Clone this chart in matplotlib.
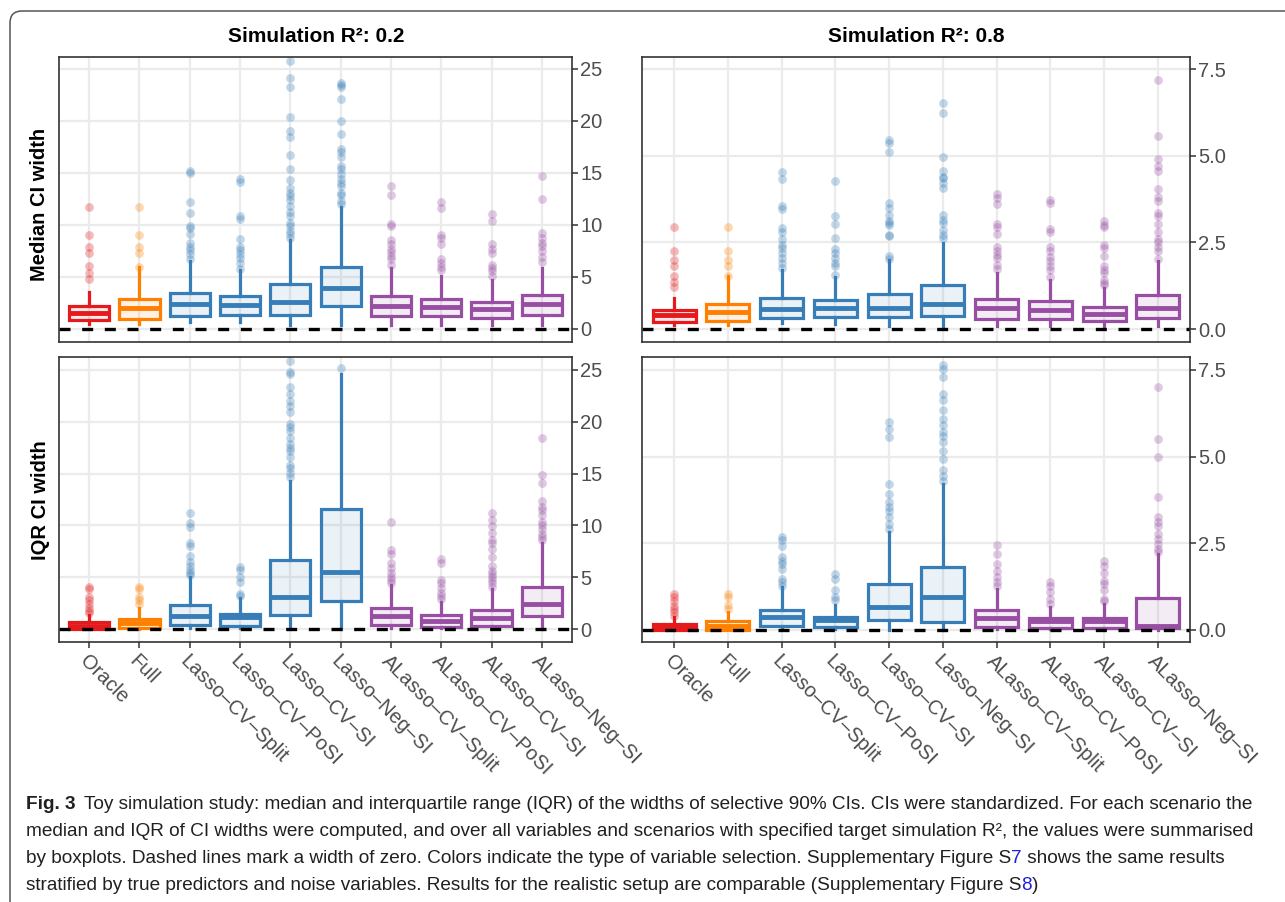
import matplotlib
matplotlib.use("Agg")
import matplotlib.pyplot as plt
import numpy as np
from matplotlib import font_manager as fm
from matplotlib.patches import FancyBboxPatch
from matplotlib.transforms import IdentityTransform
from matplotlib.colors import to_rgba

W, H, DPI = 1285, 902, 100

# ---------------- data ----------------
methods = ["Oracle", "Full", "Lasso\u2013CV\u2013Split", "Lasso\u2013CV\u2013PoSI", "Lasso\u2013CV\u2013SI",
           "Lasso\u2013Neg\u2013SI", "ALasso\u2013CV\u2013Split", "ALasso\u2013CV\u2013PoSI",
           "ALasso\u2013CV\u2013SI", "ALasso\u2013Neg\u2013SI"]
method_type = ["oracle", "full", "lasso", "lasso", "lasso", "lasso", "alasso", "alasso", "alasso", "alasso"]
type_colors = {"oracle": "#E41A1C", "full": "#FF7F00", "lasso": "#377EB8", "alasso": "#984EA3"}

col_titles = ["Simulation R\u00b2: 0.2", "Simulation R\u00b2: 0.8"]
row_titles = ["Median CI width", "IQR CI width"]

# Median CI width, R2 = 0.2
med02_q1 = [0.90, 0.96, 1.28, 1.38, 1.31, 2.18, 1.22, 1.22, 1.06, 1.31]
med02_med = [1.54, 2.00, 2.44, 2.34, 2.56, 3.90, 2.18, 2.10, 1.92, 2.40]
med02_q3 = [2.18, 2.90, 3.46, 3.14, 4.33, 5.96, 3.14, 2.90, 2.60, 3.30]
med02_lo = [0.50, 0.50, 0.64, 0.64, 0.42, 0.42, 0.42, 0.42, 0.42, 0.42]
med02_hi = [3.60, 6.00, 6.50, 5.70, 8.60, 11.7, 5.87, 5.10, 4.74, 5.87]
med02_out = [
    [11.7, 9.0, 7.9, 7.3, 6.1, 5.4, 4.8],
    [11.7, 9.0, 7.9, 7.3, 6.0],
    [15.2, 15.0, 12.2, 11.2, 9.9, 9.7, 9.1, 8.3, 7.9, 7.6, 7.2, 6.7],
    [14.4, 14.1, 10.9, 10.6, 8.7, 7.9, 7.6, 7.2, 6.8, 6.3, 5.8],
    [25.8, 24.1, 23.3, 20.4, 19.0, 18.5, 16.7, 15.4, 14.3, 13.6, 13.1, 12.8, 12.4, 11.8,
     11.25, 10.9, 10.2, 9.9, 9.4, 9.1, 8.75],
    [23.65, 23.5, 23.3, 22.1, 20.0, 18.75, 17.3, 17.0, 16.5, 15.7, 15.4, 14.9, 14.4, 14.0,
     13.7, 13.1, 12.85, 12.3, 12.05],
    [13.7, 12.85, 10.1, 9.9, 8.6, 8.2, 7.7, 7.4, 7.05, 6.7, 6.2],
    [12.2, 11.6, 9.0, 8.75, 8.2, 6.7, 6.35, 6.0, 5.7],
    [11.1, 10.35, 8.2, 7.7, 7.3, 6.2, 5.87, 5.55, 5.06],
    [14.7, 12.5, 9.2, 8.75, 8.3, 7.95, 7.47, 6.9, 6.4],
]

# Median CI width, R2 = 0.8
med08_q1 = [0.19, 0.22, 0.32, 0.34, 0.34, 0.37, 0.30, 0.30, 0.22, 0.32]
med08_med = [0.39, 0.49, 0.59, 0.60, 0.62, 0.73, 0.60, 0.54, 0.43, 0.62]
med08_q3 = [0.56, 0.73, 0.89, 0.85, 1.01, 1.26, 0.86, 0.80, 0.63, 0.97]
med08_lo = [0.12, 0.12, 0.17, 0.15, 0.10, 0.10, 0.10, 0.10, 0.10, 0.10]
med08_hi = [0.89, 1.52, 1.71, 1.49, 2.00, 2.48, 1.61, 1.42, 1.18, 1.95]
med08_out = [
    [2.93, 2.24, 1.98, 1.81, 1.52, 1.35, 1.21],
    [2.93, 2.24, 1.98, 1.81, 1.52],
    [4.52, 4.32, 3.56, 3.46, 2.91, 2.79, 2.59, 2.43, 2.33, 2.19, 2.05, 1.90, 1.76],
    [4.28, 3.27, 3.04, 2.62, 2.31, 2.19, 2.05, 1.90, 1.81, 1.55],
    [5.46, 5.36, 5.12, 3.65, 3.49, 3.28, 3.13, 3.07, 3.00, 2.72, 2.67, 2.10, 2.02],
    [6.51, 6.24, 4.95, 4.56, 4.40, 4.37, 4.21, 4.08, 3.29, 3.15, 3.05, 2.86, 2.72, 2.62],
    [3.90, 3.78, 3.61, 3.04, 2.94, 2.74, 2.38, 2.24, 2.14, 2.05, 1.85, 1.74],
    [3.71, 3.63, 2.89, 2.81, 2.38, 2.24, 2.09, 1.95, 1.83, 1.71, 1.49],
    [3.13, 3.00, 2.94, 2.43, 2.33, 2.11, 1.83, 1.71, 1.61, 1.42, 1.33, 1.28],
    [7.18, 5.57, 4.90, 4.69, 4.57, 4.03, 3.82, 3.68, 3.35, 3.25, 3.04, 2.81, 2.59, 2.50,
     2.38, 2.24, 2.02],
]

# IQR CI width, R2 = 0.2
iqr02_q1 = [0.05, 0.07, 0.42, 0.26, 1.31, 2.75, 0.42, 0.19, 0.32, 1.22]
iqr02_med = [0.30, 0.60, 1.22, 1.12, 3.07, 5.47, 1.22, 0.74, 1.06, 2.43]
iqr02_q3 = [0.65, 0.96, 2.34, 1.47, 6.66, 11.6, 2.00, 1.31, 1.80, 4.10]
iqr02_lo = [0.00, 0.00, 0.10, 0.10, 0.00, 0.00, 0.10, 0.10, 0.10, 0.00]
iqr02_hi = [1.38, 2.00, 5.06, 3.00, 14.3, 24.6, 4.26, 2.60, 3.84, 8.26]
iqr02_out = [
    [4.1, 3.84, 3.14, 2.8, 2.43, 2.0, 1.76, 1.54],
    [4.1, 3.84, 3.14, 2.8, 2.43],
    [11.2, 10.24, 9.86, 8.26, 8.0, 7.04, 6.5, 6.08, 5.7, 5.44, 5.2],
    [6.0, 5.7, 5.06, 4.58, 3.36, 3.2],
    [25.9, 24.8, 24.6, 23.4, 22.7, 22.0, 21.5, 20.9, 19.8, 19.5, 19.1, 18.4, 17.9, 17.5,
     17.2, 16.6, 15.8, 15.5, 15.1, 14.7],
    [25.2],
    [10.34, 7.6, 7.23, 6.34, 5.86, 5.44, 5.06, 4.74, 4.48],
    [6.72, 6.4, 4.74, 4.42, 3.94, 3.52, 3.2, 2.88],
    [11.2, 10.56, 9.92, 9.28, 8.64, 8.32, 7.68, 6.98, 6.08, 5.63, 5.31, 5.0, 4.74, 4.42, 4.1],
    [18.4, 14.9, 14.1, 12.4, 11.8, 11.5, 11.0, 10.34, 10.0, 9.7, 9.2, 8.9, 8.6],
]

# IQR CI width, R2 = 0.8
iqr08_q1 = [0.00, 0.00, 0.10, 0.08, 0.29, 0.22, 0.08, 0.05, 0.05, 0.05]
iqr08_med = [0.08, 0.12, 0.37, 0.29, 0.65, 0.94, 0.34, 0.27, 0.27, 0.12]
iqr08_q3 = [0.17, 0.25, 0.58, 0.37, 1.31, 1.81, 0.56, 0.34, 0.34, 0.91]
iqr08_lo = [0.00, 0.00, 0.03, 0.03, 0.00, 0.00, 0.03, 0.03, 0.03, 0.00]
iqr08_hi = [0.37, 0.51, 1.23, 0.73, 2.82, 4.21, 1.18, 0.67, 0.75, 2.19]
iqr08_out = [
    [1.04, 0.96, 0.83, 0.70, 0.60, 0.51, 0.41],
    [1.04, 0.94, 0.73, 0.60],
    [2.67, 2.58, 2.43, 2.10, 2.00, 1.90, 1.76, 1.47, 1.37, 1.28],
    [1.60, 1.47, 1.15, 0.96, 0.85],
    [6.01, 5.80, 5.56, 4.21, 3.92, 3.68, 3.54, 3.44, 3.25, 3.06, 2.91],
    [7.65, 7.53, 7.30, 6.80, 6.62, 6.35, 6.09, 5.90, 5.70, 5.60, 5.41, 5.17, 4.93, 4.60,
     4.45, 4.31],
    [2.46, 2.19, 1.90, 1.71, 1.54, 1.37, 1.28],
    [1.37, 1.28, 1.09, 0.89, 0.75],
    [2.00, 1.83, 1.63, 1.42, 1.33, 1.15, 0.89, 0.83],
    [7.00, 5.51, 4.98, 3.83, 3.25, 3.10, 3.00, 2.77, 2.62, 2.48, 2.34, 2.24],
]

ticks_r02 = [0, 5, 10, 15, 20, 25]
ticks_r08 = [0.0, 2.5, 5.0, 7.5]

caption_lines = [
    [("Fig. 3", "bold", "#231F20"),
     ("Toy simulation study: median and interquartile range (IQR) of the widths of selective 90% CIs. "
      "CIs were standardized. For each scenario the", "normal", "#231F20")],
    [("median and IQR of CI widths were computed, and over all variables and scenarios with specified "
      "target simulation R\u00b2, the values were summarised", "normal", "#231F20")],
    [("by boxplots. Dashed lines mark a width of zero. Colors indicate the type of variable selection. "
      "Supplementary Figure S", "normal", "#231F20"),
     ("7", "normal", "#1F1FE0"),
     (" shows the same results", "normal", "#231F20")],
    [("stratified by true predictors and noise variables. Results for the realistic setup are comparable "
      "(Supplementary Figure S", "normal", "#231F20"),
     ("8", "normal", "#1F1FE0"),
     (")", "normal", "#231F20")],
]

# ---------------- styling ----------------
available = {f.name for f in fm.fontManager.ttflist}
main_font = "Liberation Sans" if "Liberation Sans" in available else "DejaVu Sans"
cap_font = "Liberation Sans Narrow" if "Liberation Sans Narrow" in available else main_font
plt.rcParams["font.family"] = [main_font, "DejaVu Sans"]

fig = plt.figure(figsize=(W / DPI, H / DPI), dpi=DPI)

def fig_rect(x0, y0, x1, y1):
    return [x0 / W, 1 - y1 / H, (x1 - x0) / W, (y1 - y0) / H]

panels = [
    (fig_rect(59, 57, 572, 342), (med02_q1, med02_med, med02_q3, med02_lo, med02_hi, med02_out),
     (-1.25, 26.15), ticks_r02, False),
    (fig_rect(642, 57, 1190, 342), (med08_q1, med08_med, med08_q3, med08_lo, med08_hi, med08_out),
     (-0.375, 7.85), ticks_r08, False),
    (fig_rect(59, 357, 572, 642), (iqr02_q1, iqr02_med, iqr02_q3, iqr02_lo, iqr02_hi, iqr02_out),
     (-1.25, 26.25), ticks_r02, True),
    (fig_rect(642, 357, 1190, 642), (iqr08_q1, iqr08_med, iqr08_q3, iqr08_lo, iqr08_hi, iqr08_out),
     (-0.35, 7.875), ticks_r08, True),
]

positions = np.arange(1, len(methods) + 1)

for rect, (q1s, meds, q3s, los, his, outs), ylim, yt, show_x in panels:
    ax = fig.add_axes(rect)
    ax.set_facecolor("white")
    for i, pos in enumerate(positions):
        c = type_colors[method_type[i]]
        st = [dict(med=meds[i], q1=q1s[i], q3=q3s[i], whislo=los[i], whishi=his[i],
                   fliers=np.array(outs[i]))]
        ax.bxp(st, positions=[pos], widths=0.8, patch_artist=True, showcaps=False,
               boxprops=dict(facecolor=to_rgba(c, 0.10), edgecolor=c, linewidth=2.3),
               medianprops=dict(color=c, linewidth=3.5, solid_capstyle="butt"),
               whiskerprops=dict(color=c, linewidth=2.3),
               flierprops=dict(marker="o", markerfacecolor=c, markeredgecolor="none",
                               alpha=0.3, markersize=6.3),
               zorder=3)
    ax.axhline(0, color="black", linewidth=2.4, linestyle=(0, (3.3, 3.5)), zorder=6)
    ax.set_xlim(0.4, len(methods) + 0.6)
    ax.set_ylim(*ylim)
    ax.set_xticks(positions)
    ax.set_yticks(yt)
    if yt is ticks_r08:
        ax.set_yticklabels([f"{v:.1f}" for v in yt])
    else:
        ax.set_yticklabels([f"{v:g}" for v in yt])
    ax.yaxis.tick_right()
    ax.grid(True, color="#EBEBEB", linewidth=1.6, zorder=0)
    ax.set_axisbelow(True)
    for sp in ax.spines.values():
        sp.set_color("#333333")
        sp.set_linewidth(1.2)
        sp.set_zorder(7)
    ax.tick_params(axis="y", which="both", right=True, left=False, length=4, width=1.1,
                   color="#333333", labelcolor="#4D4D4D", labelsize=14.5, pad=2)
    if show_x:
        ax.set_xticklabels(methods)
        ax.tick_params(axis="x", length=4, width=1.1, color="#333333", labelcolor="#4D4D4D",
                       labelsize=14.5, pad=3)
        for lab in ax.get_xticklabels():
            lab.set_rotation(-45)
            lab.set_ha("left")
            lab.set_va("top")
            lab.set_rotation_mode("anchor")
    else:
        ax.tick_params(axis="x", length=0, labelbottom=False)

# column titles and row labels
fig.text(316 / W, 1 - 36 / H, col_titles[0], ha="center", va="center", fontsize=15,
         fontweight="bold", color="black")
fig.text(916 / W, 1 - 36 / H, col_titles[1], ha="center", va="center", fontsize=15,
         fontweight="bold", color="black")
fig.text(40 / W, 1 - 204 / H, row_titles[0], ha="center", va="center", rotation=90,
         fontsize=14.5, fontweight="bold", color="black")
fig.text(40 / W, 1 - 500 / H, row_titles[1], ha="center", va="center", rotation=90,
         fontsize=14.5, fontweight="bold", color="black")

# outer rounded frame (only left/top visible)
frame = FancyBboxPatch((10, -30), 1320, H - 11 + 30, boxstyle="round,pad=0,rounding_size=12",
                       transform=IdentityTransform(), fill=False, edgecolor="#555555",
                       linewidth=1.1)
fig.add_artist(frame)

# caption
renderer = fig.canvas.get_renderer()
x0 = 26
target_w = 1262 - x0
cap_size = 13.0
probe = fig.text(0, 0, caption_lines[1][0][0], fontsize=cap_size, family=cap_font,
                 transform=IdentityTransform())
w = probe.get_window_extent(renderer).width
probe.remove()
cap_size = cap_size * target_w / w

baselines = [809, 836, 863, 890]
for line, yb in zip(caption_lines, baselines):
    x = x0
    for k, (txt, weight, color) in enumerate(line):
        if k == 1 and line[0][1] == "bold":
            x += 9
        t = fig.text(x, H - yb, txt, fontsize=cap_size, family=cap_font, fontweight=weight,
                     color=color, ha="left", va="baseline", transform=IdentityTransform())
        x = t.get_window_extent(renderer).x1

fig.savefig("out.png", dpi=DPI)
